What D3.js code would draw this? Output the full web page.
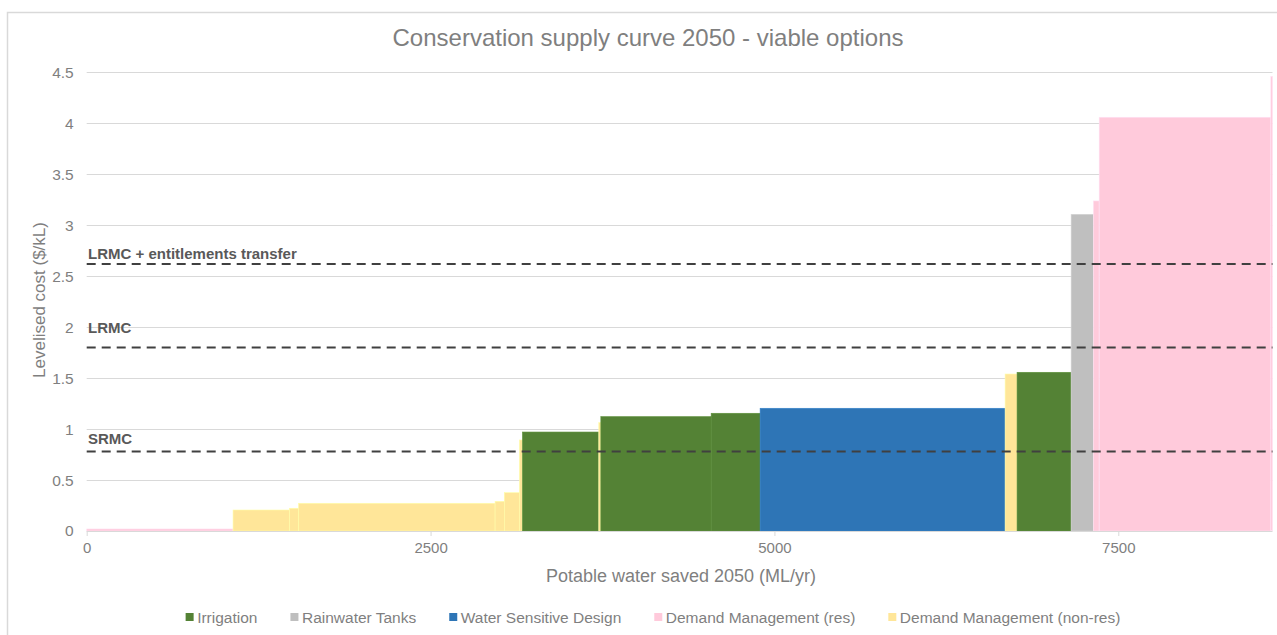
<!DOCTYPE html>
<html>
<head>
<meta charset="utf-8">
<script src="https://cdn.jsdelivr.net/npm/d3@7/dist/d3.min.js"></script>
<style>
  html, body { margin: 0; padding: 0; background: #fff; }
  svg { display: block; font-family: "Liberation Sans", Arial, sans-serif; }
</style>
</head>
<body>
<svg id="chart" width="1277" height="635"></svg>
<script>
// Each option: group, water saved (ML/yr, block width) and levelised cost ($/kL)
const optionGroups = ["res", "nonres", "nonres", "nonres", "nonres", "nonres", "nonres",
  "irr", "nonres", "irr", "irr", "wsd", "nonres", "irr", "tanks", "res", "res", "res"];
const optionSavings = [1064, 410, 66, 1429, 67, 110, 22,
  555, 15, 802, 356, 1781, 87, 393, 162, 42, 1248, 12];
const optionCosts = [0.02, 0.206, 0.223, 0.272, 0.291, 0.376, 0.893,
  0.971, 1.063, 1.122, 1.155, 1.204, 1.540, 1.557, 3.107, 3.238, 4.059, 4.46];

// Benchmark cost lines
const benchmarkNames = ["SRMC", "LRMC", "LRMC + entitlements transfer"];
const benchmarkValues = [0.78, 1.80, 2.62];

// Legend
const legendKeys = ["irr", "tanks", "wsd", "res", "nonres"];
const legendLabels = ["Irrigation", "Rainwater Tanks", "Water Sensitive Design",
  "Demand Management (res)", "Demand Management (non-res)"];
const groupColors = ["#548235", "#bfbfbf", "#2e75b6", "#ffcadb", "#ffe699"];

const xTicks = [0, 2500, 5000, 7500];
const yTicks = [0, 0.5, 1, 1.5, 2, 2.5, 3, 3.5, 4, 4.5];

const svg = d3.select("#chart");
const color = d3.scaleOrdinal().domain(legendKeys).range(groupColors);

const totalSaved = d3.sum(optionSavings);
const x = d3.scaleLinear().domain([0, totalSaved]).range([86.7, 86.7 + totalSaved * (1031.6 / 7500)]);
const y = d3.scaleLinear().domain([0, 4.5]).range([531, 72.3]);

// chart frame
svg.append("path")
  .attr("d", "M7.5,635 L7.5,12.5 L1277,12.5")
  .attr("fill", "none").attr("stroke", "#d9d9d9").attr("stroke-width", 1.5);

// title
svg.append("text")
  .attr("x", 648).attr("y", 46).attr("text-anchor", "middle")
  .attr("font-size", 24).attr("fill", "#7f7f7f")
  .text("Conservation supply curve 2050 - viable options");

// gridlines
svg.append("g").selectAll("line").data(yTicks.filter(d => d > 0)).join("line")
  .attr("x1", x.range()[0]).attr("x2", x.range()[1])
  .attr("y1", d => Math.round(y(d)) + 0.5).attr("y2", d => Math.round(y(d)) + 0.5)
  .attr("stroke", "#d9d9d9").attr("stroke-width", 1);

// blocks
const starts = [];
optionSavings.reduce((acc, v) => { starts.push(acc); return acc + v; }, 0);
const blocks = optionSavings.map((w, i) => ({ x0: starts[i], x1: starts[i] + w, cost: optionCosts[i], group: optionGroups[i] }));

svg.append("g").selectAll("rect").data(blocks).join("rect")
  .attr("x", d => x(d.x0))
  .attr("width", d => x(d.x1) - x(d.x0))
  .attr("y", d => y(d.cost))
  .attr("height", d => y(0) - y(d.cost))
  .attr("fill", d => color(d.group))
  .attr("stroke", d => d3.color(color(d.group)).brighter(0.3))
  .attr("stroke-width", 0.6);

// x axis
const xAxis = d3.axisBottom(x).tickValues(xTicks).tickSize(5).tickPadding(6).tickFormat(d3.format("d"));
const gx = svg.append("g").attr("transform", `translate(0,${y(0)})`).call(xAxis);
gx.select(".domain").attr("stroke", "#d9d9d9").attr("d", `M${x.range()[0]},0.5H${x.range()[1]}`);
gx.selectAll(".tick line").attr("stroke", "#d9d9d9");
gx.selectAll(".tick text").attr("fill", "#7f7f7f").attr("font-size", 15)
  .attr("font-family", "Liberation Sans, Arial, sans-serif");

// y axis
const yAxis = d3.axisLeft(y).tickValues(yTicks).tickSize(0).tickPadding(13).tickFormat(d3.format("~g"));
const gy = svg.append("g").attr("transform", `translate(${x.range()[0]},0)`).call(yAxis);
gy.select(".domain").remove();
gy.selectAll(".tick text").attr("fill", "#7f7f7f").attr("font-size", 15.5)
  .attr("font-family", "Liberation Sans, Arial, sans-serif");

// axis titles
svg.append("text")
  .attr("transform", "translate(45,300) rotate(-90)")
  .attr("text-anchor", "middle").attr("font-size", 17).attr("fill", "#7f7f7f")
  .text("Levelised cost ($/kL)");
svg.append("text")
  .attr("x", 681).attr("y", 582).attr("text-anchor", "middle")
  .attr("font-size", 18).attr("fill", "#7f7f7f")
  .text("Potable water saved 2050 (ML/yr)");

// benchmark lines, each label sitting a little above its line
const labelLift = [7, 15, 5];
const bench = svg.append("g");
benchmarkValues.forEach((v, i) => {
  bench.append("line")
    .attr("x1", x.range()[0]).attr("x2", x.range()[1])
    .attr("y1", y(v)).attr("y2", y(v))
    .attr("stroke", "#404040").attr("stroke-width", 2).attr("stroke-dasharray", "9,6");
  bench.append("text")
    .attr("x", 88).attr("y", y(v) - labelLift[i])
    .attr("font-size", 15).attr("font-weight", "bold").attr("fill", "#595959")
    .text(benchmarkNames[i]);
});

// legend, laid out centred under the plot
const lg = svg.append("g");
const items = legendKeys.map((k, i) => {
  const g = lg.append("g");
  g.append("rect").attr("x", 0).attr("y", -4).attr("width", 8).attr("height", 8).attr("fill", color(k));
  const t = g.append("text").attr("x", 11.5).attr("y", 5.5)
    .attr("font-size", 15.5).attr("fill", "#7f7f7f").text(legendLabels[i]);
  return { g, w: 11.5 + t.node().getComputedTextLength() };
});
const gap = 33;
const totalW = d3.sum(items, d => d.w) + gap * (items.length - 1);
let cx = 653 - totalW / 2;
items.forEach(it => {
  it.g.attr("transform", `translate(${cx},617)`);
  cx += it.w + gap;
});
</script>
</body>
</html>
